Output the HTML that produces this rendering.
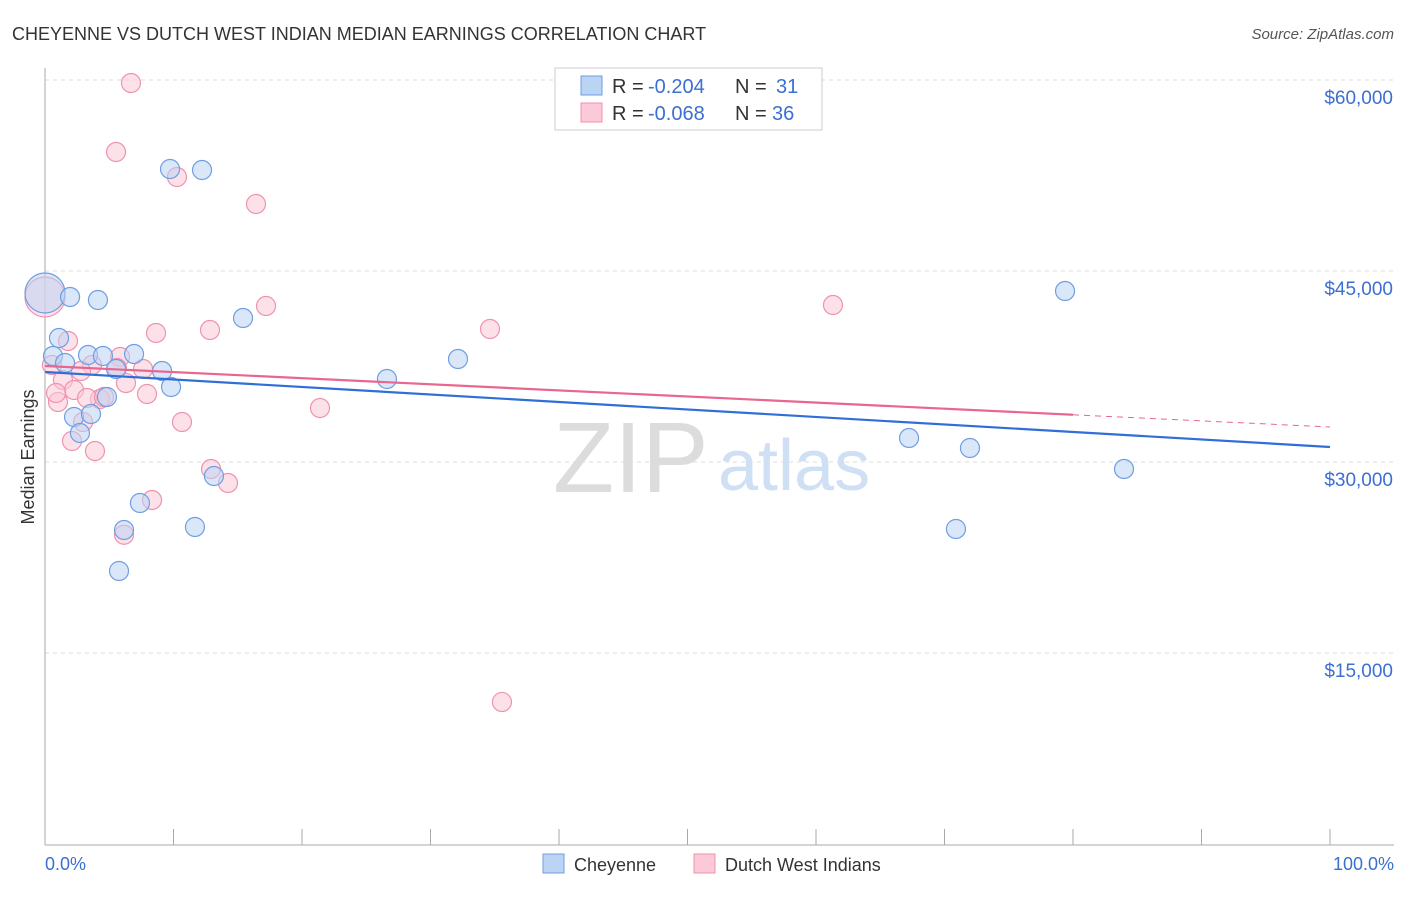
<!DOCTYPE html>
<html><head><meta charset="utf-8"><style>
body{margin:0;background:#fff;font-family:"Liberation Sans",sans-serif;}
svg text{font-family:"Liberation Sans",sans-serif;}
</style></head><body>
<svg id="chart" width="1406" height="892">
<text x="12" y="40" font-size="18" fill="#333">CHEYENNE VS DUTCH WEST INDIAN MEDIAN EARNINGS CORRELATION CHART</text>
<text x="1394" y="39" font-size="15" fill="#555" font-style="italic" text-anchor="end">Source: ZipAtlas.com</text>
<g id="grid"></g>
<text x="553" y="492" font-size="100" fill="#dcdcdc" font-family="Liberation Serif">ZIP</text>
<text x="718" y="490" font-size="72" fill="#cfe0f5">atlas</text>
<g id="marks"></g>
<text transform="translate(34,457) rotate(-90)" font-size="18" fill="#333" text-anchor="middle">Median Earnings</text>
<text x="45" y="870" font-size="18" fill="#3b6fd1">0.0%</text>
<text x="1394" y="870" font-size="18" fill="#3b6fd1" text-anchor="end">100.0%</text>
<g>
<rect x="555" y="68" width="267" height="62" fill="#fff" stroke="#ccc"/>
<rect x="581" y="76" width="21" height="19" fill="#bcd4f4" stroke="#6f9ee3"/>
<rect x="581" y="103" width="21" height="19" fill="#fbc9d7" stroke="#ee93ad"/>
<text x="612" y="93" font-size="20" fill="#333">R =</text>
<text x="648" y="93" font-size="20" fill="#3b6fd1">-0.204</text>
<text x="735" y="93" font-size="20" fill="#333">N =</text>
<text x="776" y="93" font-size="20" fill="#3b6fd1">31</text>
<text x="612" y="120" font-size="20" fill="#333">R =</text>
<text x="648" y="120" font-size="20" fill="#3b6fd1">-0.068</text>
<text x="735" y="120" font-size="20" fill="#333">N =</text>
<text x="772" y="120" font-size="20" fill="#3b6fd1">36</text>
</g>
<g>
<rect x="543" y="854" width="21" height="19" fill="#bcd4f4" stroke="#6f9ee3"/>
<text x="574" y="871" font-size="18" fill="#333">Cheyenne</text>
<rect x="694" y="854" width="21" height="19" fill="#fbc9d7" stroke="#ee93ad"/>
<text x="725" y="871" font-size="18" fill="#333">Dutch West Indians</text>
</g>
</svg>
<script>
const yTicks=[15000,30000,45000,60000];
const yTickLabels=["$15,000","$30,000","$45,000","$60,000"];
const blueX=[0,1.95,4.12,1.09,0.62,3.35,4.51,6.93,1.56,5.53,9.11,9.81,4.82,2.26,3.58,2.72,7.39,6.15,11.67,13.15,5.76,9.73,12.22,15.41,26.61,32.14,67.24,71.98,70.89,79.38,83.97];
const blueY=[43273,42959,42723,39739,38326,38404,38326,38483,37776,37305,37148,35892,35107,33536,33771,32279,26782,24661,24897,28902,21442,53011,52932,41310,36519,38090,31886,31101,24740,43430,29451];
const pinkX=[6.69,5.53,10.27,16.42,0,17.2,12.84,8.64,1.79,0.54,5.84,7.63,3.66,2.80,1.40,6.30,1.01,2.26,0.86,4.28,3.27,7.94,4.59,2.96,10.66,2.10,3.89,21.40,34.63,61.32,12.92,14.24,8.33,6.15,35.56,5.60];
const pinkY=[59764,54346,52383,50262,42959,42253,40368,40132,39504,37619,38247,37305,37619,37148,36441,36205,34713,35656,35421,34949,35028,35342,35107,33144,33144,31651,30866,34242,40446,42331,29451,28352,27017,24289,11155,37383];
const blueTrend=[37069,31180];
const pinkTrend=[37540,32750];
const NS="http://www.w3.org/2000/svg";
const X=p=>45+p*12.85;
const Y=v=>80+(60000-v)*191/15000;
function mk(tag,attrs,parent){const e=document.createElementNS(NS,tag);for(const k in attrs)e.setAttribute(k,attrs[k]);parent.appendChild(e);return e;}
const grid=document.getElementById('grid'),marks=document.getElementById('marks');
yTicks.forEach((t,i)=>{
 const l=mk('line',{x1:45,x2:1394,y1:Y(t),y2:Y(t),stroke:'#ddd','stroke-dasharray':'4,4'},grid);
 
 
 const tx=mk('text',{x:1393,y:Y(t)+24,'font-size':19,fill:'#3b6fd1','text-anchor':'end'},grid);
 tx.textContent=yTickLabels[i];
 
 
});
const ax=mk('line',{x1:45,x2:45,y1:68,y2:845,stroke:'#aaa'},grid);


const bx=mk('line',{x1:45,x2:1394,y1:845,y2:845,stroke:'#aaa'},grid);


for(let i=0;i<=10;i++){const t=mk('line',{x1:X(i*10),x2:X(i*10),y1:829,y2:845,stroke:'#aaa'},grid);
 
 }
function pts(xs,ys,fill,stroke,name){xs.forEach((x,i)=>{const r=(x===0)?20:9.5;
 const c=mk('circle',{cx:X(x),cy:Y(ys[i]),r:r,fill:fill,'fill-opacity':0.55,stroke:stroke,'stroke-width':1.2},marks);
 
 });}
pts(pinkX,pinkY,'#fbc9d7','#ee93ad','dutch-point');
pts(blueX,blueY,'#bcd4f4','#6f9ee3','cheyenne-point');
const bl=mk('line',{x1:X(0),y1:Y(blueTrend[0]),x2:X(100),y2:Y(blueTrend[1]),stroke:'#2f6fd6','stroke-width':2.2},marks);


const pv=p=>pinkTrend[0]+(pinkTrend[1]-pinkTrend[0])*p/100;
const pl=mk('line',{x1:X(0),y1:Y(pinkTrend[0]),x2:X(80),y2:Y(pv(80)),stroke:'#e8668f','stroke-width':2.2},marks);


const pd=mk('line',{x1:X(80),y1:Y(pv(80)),x2:X(100),y2:Y(pinkTrend[1]),stroke:'#e8668f','stroke-width':1,'stroke-dasharray':'6,5'},marks);


</script>
</body></html>
